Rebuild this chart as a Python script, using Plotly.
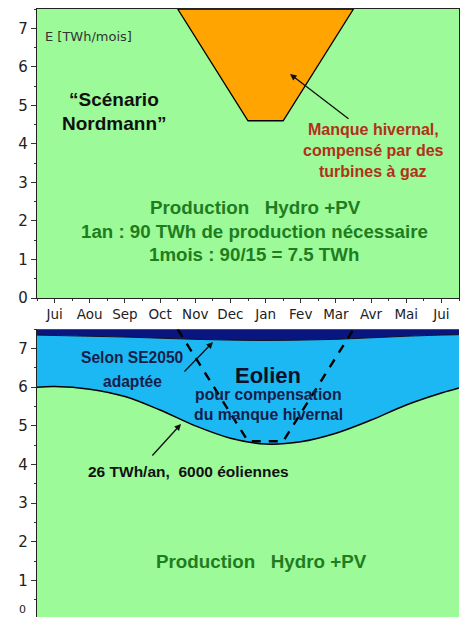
import plotly.graph_objects as go

# ---- data ----
months = ["Jui", "Aou", "Sep", "Oct", "Nov", "Dec", "Jan", "Fev", "Mar", "Avr", "Mai", "Jui"]
month_pos = list(range(12))

# winter deficit trapezoid (top panel, filled orange; bottom panel dashed)
trap_x = [3.5, 5.5, 6.5, 8.5]
trap_y = [7.5, 4.6, 4.6, 7.5]

# bottom panel: Hydro+PV production curve and wind top boundary
curve_x = [-0.5, 0, 1, 2, 3, 4, 5, 6, 7, 8, 9, 10, 11, 11.5]
hydro_pv = [6.0, 6.02, 5.95, 5.76, 5.41, 5.0, 4.68, 4.53, 4.59, 4.81, 5.15, 5.54, 5.85, 5.98]
wind_top = [7.35, 7.34, 7.32, 7.3, 7.27, 7.24, 7.22, 7.21, 7.22, 7.24, 7.28, 7.32, 7.35, 7.36]
top_level = [7.6] * len(curve_x)

GREEN = "#9cfa98"
BLUE = "#1cb8f4"
NAVY = "#0a1680"
ORANGE = "#ffa400"
FONT = "Liberation Sans, Arial, sans-serif"
TFONT = "DejaVu Sans, sans-serif"

fig = go.Figure()

# ---- top panel ----
fig.add_trace(go.Scatter(
    x=trap_x + [trap_x[0]], y=trap_y + [trap_y[0]], mode="lines",
    fill="toself", fillcolor=ORANGE, line=dict(color="black", width=1.3),
    xaxis="x", yaxis="y", hoverinfo="skip", showlegend=False))

# ---- bottom panel ----
fig.add_trace(go.Scatter(
    x=curve_x, y=hydro_pv, mode="lines", line=dict(color="black", width=1.5, shape="spline"),
    fill="tozeroy", fillcolor=GREEN, xaxis="x2", yaxis="y2", hoverinfo="skip", showlegend=False))
fig.add_trace(go.Scatter(
    x=curve_x, y=wind_top, mode="lines", line=dict(color="#101020", width=1, shape="spline"),
    fill="tonexty", fillcolor=BLUE, xaxis="x2", yaxis="y2", hoverinfo="skip", showlegend=False))
fig.add_trace(go.Scatter(
    x=curve_x, y=top_level, mode="lines", line=dict(color=NAVY, width=0),
    fill="tonexty", fillcolor=NAVY, xaxis="x2", yaxis="y2", hoverinfo="skip", showlegend=False))
fig.add_trace(go.Scatter(
    x=trap_x, y=trap_y, mode="lines", line=dict(color="black", width=2.4, dash="9px,8px"),
    xaxis="x2", yaxis="y2", hoverinfo="skip", showlegend=False))

xr = [-0.5, 11.5]
xdom = [37 / 466, 459 / 466]
tickfont = dict(family=TFONT, size=13.5, color="#222")
ytickfont = dict(family=TFONT, size=15, color="#222")

fig.update_layout(
    width=466, height=617, margin=dict(l=0, r=0, t=0, b=0, autoexpand=False),
    paper_bgcolor="white", plot_bgcolor=GREEN,
    xaxis=dict(domain=xdom, range=xr, tickvals=month_pos, ticktext=months, ticks="outside",
               ticklen=4, tickcolor="#333", showgrid=False, zeroline=False, showline=True,
               linecolor="#222", linewidth=1.2, mirror=True, tickfont=tickfont, automargin=False,
               minor=dict(tickvals=[m + 0.5 for m in range(-1, 12)], ticks="outside", ticklen=2, tickcolor="#333"),
               anchor="y"),
    yaxis=dict(domain=[1 - 298 / 617, 1 - 9 / 617], range=[0, 7.5], tickvals=list(range(8)),
               ticks="outside", ticklen=5, tickcolor="#333", showgrid=False, zeroline=False,
               showline=True, linecolor="#222", linewidth=1.2, mirror=True, tickfont=ytickfont,
               automargin=False,
               minor=dict(dtick=0.5, ticks="outside", ticklen=2, tickcolor="#333"), anchor="x"),
    xaxis2=dict(domain=xdom, range=xr, tickvals=month_pos, showticklabels=False, showgrid=False,
                zeroline=False, showline=False, anchor="y2", automargin=False),
    yaxis2=dict(domain=[0, 1 - 329.3 / 617], range=[0.05, 7.5], tickvals=list(range(8)),
                ticks="outside", ticklen=5, tickcolor="#333", showgrid=False, zeroline=False,
                showline=True, linecolor="#222", linewidth=1.2, tickfont=ytickfont, automargin=False,
                minor=dict(dtick=0.5, ticks="outside", ticklen=2, tickcolor="#333"), anchor="x2"),
)

def ann(text, x, y, size, color, bold=True, xanchor="center", ref=("x", "y"), family=FONT):
    fig.add_annotation(text=("<b>%s</b>" % text) if bold else text, x=x, y=y, xref=ref[0], yref=ref[1],
                       showarrow=False, xanchor=xanchor, yanchor="middle",
                       font=dict(family=family, size=size, color=color))

# pixel helpers
def px2x(px):
    return (px - 37) / (459 - 37) * 12 - 0.5

def py2y_top(py):
    return (298 - py) / (298 - 9) * 7.5

def py2y_bot(py):
    return 0.05 + (617 - py) / (617 - 329.3) * 7.45

# top panel texts
ann("E [TWh/mois]", px2x(43), py2y_top(36), 13, "#333", bold=False, xanchor="left", family=TFONT)
ann("“Scénario", px2x(114), py2y_top(99), 19, "#111")
ann("Nordmann”", px2x(114), py2y_top(123), 19, "#111")
RED = "#b3301c"
ann("Manque hivernal,", px2x(373), py2y_top(129), 16, RED)
ann("compensé par des", px2x(373), py2y_top(150), 16, RED)
ann("turbines à gaz", px2x(373), py2y_top(171), 16, RED)
DG = "#1f7d1f"
ann("Production   Hydro +PV", px2x(255), py2y_top(207), 18.8, DG)
ann("1an : 90 TWh de production nécessaire", px2x(254), py2y_top(231), 18.7, DG)
ann("1mois : 90/15 = 7.5 TWh", px2x(254), py2y_top(254), 18.7, DG)

fig.add_annotation(x=px2x(290), y=py2y_top(74), ax=px2x(350), ay=py2y_top(120),
                   xref="x", yref="y", axref="x", ayref="y", text="", showarrow=True,
                   arrowhead=2, arrowsize=1, arrowwidth=1.3, arrowcolor="#111")

# bottom panel texts
b = ("x2", "y2")
NT = "#14204a"
ann("Selon SE2050", px2x(132), py2y_bot(357), 15.6, NT, ref=b)
ann("adaptée", px2x(132), py2y_bot(381), 15.6, NT, ref=b)
ann("Eolien", px2x(268), py2y_bot(375), 22, "#0a0f2a", ref=b)
ann("pour compensation", px2x(268), py2y_bot(394), 15.8, NT, ref=b)
ann("du manque hivernal", px2x(268), py2y_bot(414), 15.8, NT, ref=b)
ann("26 TWh/an,  6000 éoliennes", px2x(188), py2y_bot(471), 15.5, "#111", ref=b)
ann("Production   Hydro +PV", px2x(261), py2y_bot(561), 18.8, DG, ref=b)

fig.add_annotation(x=px2x(213), y=py2y_bot(342), ax=px2x(183), ay=py2y_bot(373),
                   xref="x2", yref="y2", axref="x2", ayref="y2", text="", showarrow=True,
                   arrowhead=2, arrowsize=1, arrowwidth=1.3, arrowcolor="#111")
fig.add_annotation(x=px2x(181), y=py2y_bot(424), ax=px2x(151), ay=py2y_bot(457),
                   xref="x2", yref="y2", axref="x2", ayref="y2", text="", showarrow=True,
                   arrowhead=2, arrowsize=1, arrowwidth=1.3, arrowcolor="#111")

# "0" tick label at the bottom-left edge
fig.add_annotation(text="0", x=22 / 466, y=0, xref="paper", yref="paper", showarrow=False,
                   xanchor="center", yanchor="bottom", yshift=-1,
                   font=dict(family=TFONT, size=11, color="#222"))

fig.write_html("out.html", config={"displayModeBar": False},
               post_script="document.body.style.margin='0';")
